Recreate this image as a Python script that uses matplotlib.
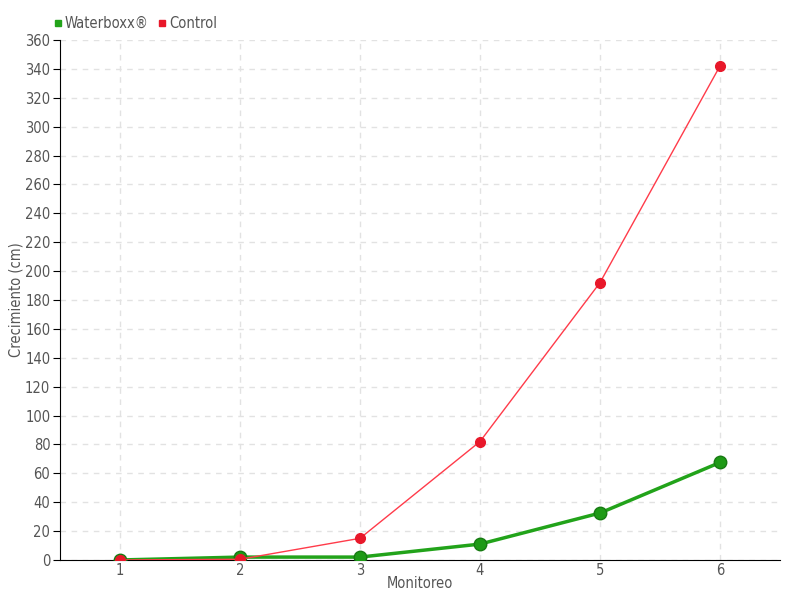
import numpy as np
import matplotlib.pyplot as plt
from matplotlib.lines import Line2D

plt.rcParams['font.family'] = ['DejaVu Sans']
plt.rcParams['font.stretch'] = 'condensed'

monitoreo = [1, 2, 3, 4, 5, 6]
waterboxx = [0, 2, 2, 11, 32.5, 67.5]
control = [0, 0.5, 15, 82, 192, 342]

fig = plt.figure(figsize=(8, 6), dpi=100)
ax = fig.add_axes([0.075, 0.0667, 0.9, 0.8667])

ax.plot(monitoreo, waterboxx, color='#22a31a', lw=2.5, marker='o', markersize=9,
        markerfacecolor='#1e9a16', markeredgecolor='#177a12', zorder=3)
ax.plot(monitoreo, control, color='#ff3b4a', lw=1, marker='o', markersize=7,
        markerfacecolor='#e8182a', markeredgecolor='#e8182a', zorder=4)

ax.set_xlim(0.5, 6.5)
ax.set_ylim(0, 360)
ax.set_xticks(monitoreo)
ax.set_yticks(np.arange(0, 361, 20))
ax.grid(True, color='#e2e2e2', linestyle=(0, (4, 4)), lw=1)
ax.set_axisbelow(True)

for s in ['top', 'right']:
    ax.spines[s].set_visible(False)
for s in ['left', 'bottom']:
    ax.spines[s].set_color('black')
ax.tick_params(axis='y', length=5, colors='black', labelcolor='#555555', labelsize=10.5, pad=2)
ax.tick_params(axis='x', length=0, labelcolor='#555555', labelsize=10.5, pad=2)

ax.set_xlabel('Monitoreo', color='#555555', fontsize=10.5, labelpad=-1)
ax.set_ylabel('Crecimiento (cm)', color='#555555', fontsize=10.5, labelpad=1)

handles = [Line2D([], [], marker='s', color='none', markerfacecolor='#22a31a',
                  markeredgecolor='#22a31a', markersize=5),
           Line2D([], [], marker='s', color='none', markerfacecolor='#e8182a',
                  markeredgecolor='#e8182a', markersize=5)]
fig.legend(handles, ['Waterboxx®', 'Control'], loc='upper left', bbox_to_anchor=(0.05, 0.995),
           ncol=2, frameon=False, fontsize=10.5, handlelength=0.6, handletextpad=0.2,
           columnspacing=0.6, labelcolor='#555555')

fig.savefig('out.png', dpi=100)
